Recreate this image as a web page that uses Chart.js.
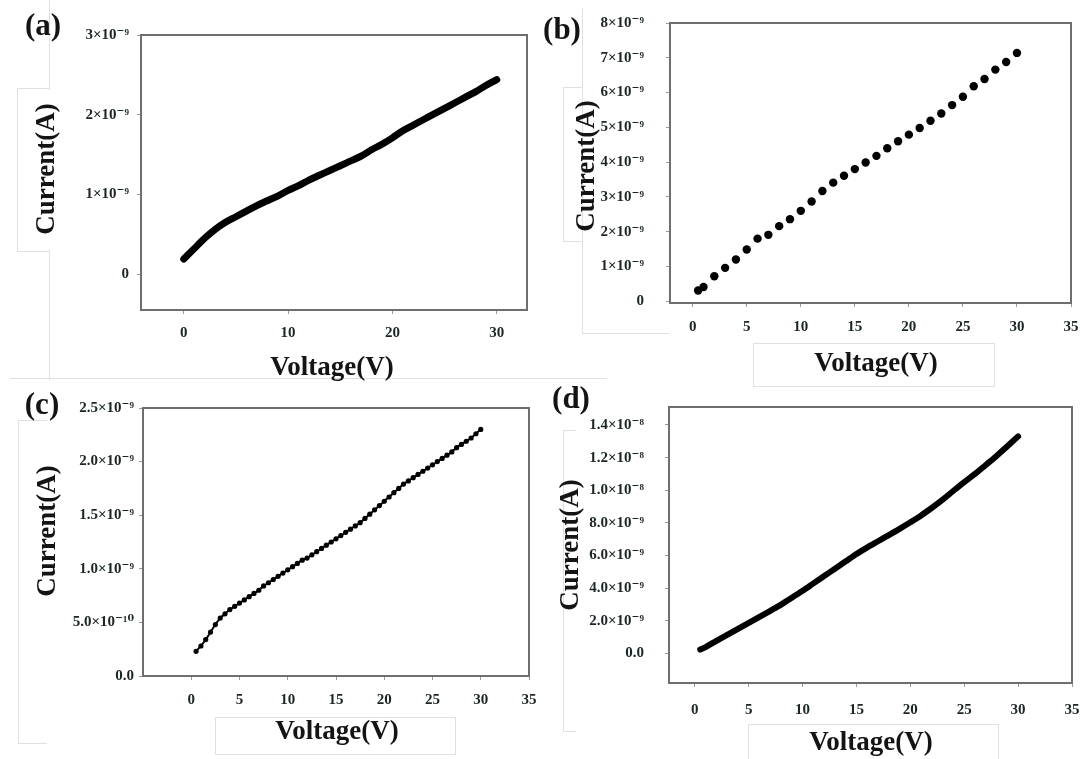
<!DOCTYPE html>
<html>
<head>
<meta charset="utf-8">
<script src="https://cdn.jsdelivr.net/npm/chart.js@4/dist/chart.umd.min.js"></script>
<style>
	body { margin: 0; background: #fff; }
	#wrap { position: relative; width: 1086px; height: 759px; overflow: hidden; background: #fff; }
	canvas { position: absolute; left: 0; top: 0; }
	.lbl { position: absolute; font-family: 'Liberation Serif', 'Times New Roman', serif; font-weight: bold; color: #141414; white-space: nowrap; transform: translate(-50%, -50%); }
	.rot { transform: translate(-50%, -50%) rotate(-90deg); }
	.box { position: absolute; border: 1px solid #e0e0e0; }
</style>
</head>
<body>
<div id="wrap">
	<!-- faint frames left over from the pasted source figures -->
	<div class="box" style="left:17px; top:88px; width:32px; height:162px; border-right:none;"></div>
	<div class="box" style="left:49px; top:0px; width:0; height:88px; border-left:none;"></div>
	<div class="box" style="left:49px; top:250px; width:0; height:128px; border-left:none;"></div>
	<div class="box" style="left:10px; top:378px; width:595px; height:0; border-bottom:none;"></div>
	<div class="box" style="left:563px; top:87px; width:19px; height:153px; border-right:none;"></div>
	<div class="box" style="left:582px; top:8px; width:86px; height:325px; border-right:none; border-top:none;"></div>
	<div class="box" style="left:753px; top:343px; width:240px; height:42px;"></div>
	<div class="box" style="left:18px; top:420px; width:28px; height:322px; border-right:none;"></div>
	<div class="box" style="left:215px; top:717px; width:239px; height:36px;"></div>
	<div class="box" style="left:563px; top:430px; width:12px; height:300px; border-right:none;"></div>
	<div class="box" style="left:748px; top:724px; width:249px; height:40px;"></div>

	<canvas id="chartA" width="1086" height="759"></canvas>
	<canvas id="chartB" width="1086" height="759"></canvas>
	<canvas id="chartC" width="1086" height="759"></canvas>
	<canvas id="chartD" width="1086" height="759"></canvas>

	<div class="lbl" style="left:43px; top:25px; font-size:31px;">(a)</div>
	<div class="lbl rot" style="left:45px; top:169px; font-size:27px;">Current(A)</div>
	<div class="lbl" style="left:332px; top:366px; font-size:27px;">Voltage(V)</div>

	<div class="lbl" style="left:562px; top:29px; font-size:31px;">(b)</div>
	<div class="lbl rot" style="left:585px; top:166px; font-size:27px;">Current(A)</div>
	<div class="lbl" style="left:876px; top:362px; font-size:27px;">Voltage(V)</div>

	<div class="lbl" style="left:42px; top:404px; font-size:31px;">(c)</div>
	<div class="lbl rot" style="left:46px; top:531px; font-size:27px;">Current(A)</div>
	<div class="lbl" style="left:337px; top:730px; font-size:27px;">Voltage(V)</div>

	<div class="lbl" style="left:571px; top:398px; font-size:31px;">(d)</div>
	<div class="lbl rot" style="left:569px; top:545px; font-size:27px;">Current(A)</div>
	<div class="lbl" style="left:871px; top:741px; font-size:27px;">Voltage(V)</div>
</div>
<script>
	// currents are in units of 1e-9 A (nA)
	var voltageA = [0,1,2,3,4,5,6,7,8,9,10,11,12,13,14,15,16,17,18,19,20,21,22,23,24,25,26,27,28,29,30];
	var currentA = [0.19,0.32,0.45,0.56,0.65,0.72,0.79,0.86,0.92,0.98,1.05,1.11,1.18,1.24,1.30,1.36,1.42,1.48,1.56,1.63,1.71,1.80,1.87,1.94,2.01,2.08,2.15,2.22,2.29,2.37,2.44];

	var voltageB = [0.5,1,2,3,4,5,6,7,8,9,10,11,12,13,14,15,16,17,18,19,20,21,22,23,24,25,26,27,28,29,30];
	var currentB = [0.31,0.41,0.72,0.96,1.20,1.49,1.80,1.91,2.16,2.36,2.60,2.87,3.17,3.41,3.61,3.80,3.99,4.18,4.40,4.60,4.79,4.98,5.19,5.40,5.64,5.88,6.18,6.39,6.66,6.88,7.14];

	var voltageC = [0.5,1,1.5,2,2.5,3,3.5,4,4.5,5,5.5,6,6.5,7,7.5,8,8.5,9,9.5,10,10.5,11,11.5,12,12.5,13,13.5,14,14.5,15,
		15.5,16,16.5,17,17.5,18,18.5,19,19.5,20,20.5,21,21.5,22,22.5,23,23.5,24,24.5,25,25.5,26,26.5,27,27.5,28,28.5,29,29.5,30];
	var currentC = [0.23,0.28,0.34,0.41,0.48,0.54,0.58,0.62,0.65,0.68,0.71,0.74,0.77,0.80,0.84,0.87,0.90,0.93,0.96,0.99,1.02,1.05,1.08,1.10,1.13,1.16,1.19,1.22,1.25,1.28,
		1.31,1.34,1.37,1.40,1.43,1.47,1.51,1.55,1.59,1.63,1.67,1.71,1.75,1.79,1.82,1.85,1.88,1.91,1.94,1.97,2.00,2.03,2.06,2.09,2.13,2.16,2.19,2.22,2.26,2.30];

	var voltageD = [0.5,1,2,3,4,5,6,7,8,9,10,11,12,13,14,15,16,17,18,19,20,21,22,23,24,25,26,27,28,29,30];
	var currentD = [0.25,0.40,0.78,1.15,1.52,1.88,2.25,2.62,3.00,3.42,3.85,4.30,4.75,5.20,5.65,6.10,6.50,6.88,7.26,7.64,8.04,8.46,8.93,9.43,9.97,10.50,11.00,11.55,12.10,12.70,13.30];

	var xTicksA = [0,10,20,30];
	var xTicks = [0,5,10,15,20,25,30,35];
	var yTicksA = [0,1,2,3];
	var yLabelsA = ['0','1×10⁻⁹','2×10⁻⁹','3×10⁻⁹'];
	var yTicksB = [0,1,2,3,4,5,6,7,8];
	var yLabelsB = ['0','1×10⁻⁹','2×10⁻⁹','3×10⁻⁹','4×10⁻⁹','5×10⁻⁹','6×10⁻⁹','7×10⁻⁹','8×10⁻⁹'];
	var yTicksC = [0,0.5,1,1.5,2,2.5];
	var yLabelsC = ['0.0','5.0×10⁻¹⁰','1.0×10⁻⁹','1.5×10⁻⁹','2.0×10⁻⁹','2.5×10⁻⁹'];
	var yTicksD = [0,2,4,6,8,10,12,14];
	var yLabelsD = ['0.0','2.0×10⁻⁹','4.0×10⁻⁹','6.0×10⁻⁹','8.0×10⁻⁹','1.0×10⁻⁸','1.2×10⁻⁸','1.4×10⁻⁸'];

	var tickFont = { family: "'Liberation Serif', 'DejaVu Serif', serif", weight: 'bold', size: 15 };

	var frame = {
		id: 'frame',
		afterDraw: function(chart)
		{
			var a = chart.chartArea;
			var ctx = chart.ctx;
			ctx.save();
			ctx.strokeStyle = '#6e6e6e';
			ctx.lineWidth = 2;
			ctx.strokeRect(a.left, a.top, a.right - a.left, a.bottom - a.top);
			ctx.restore();
		}
	};

	function points(xs, ys)
	{
		var out = [];
		for (var i = 0; i < xs.length; i++)
			out.push({ x: xs[i], y: ys[i] });
		return out;
	}

	function makeChart(id, box, xr, xTickVals, yr, yTickVals, yLabels, pads, dataset)
	{
		var ctx = document.getElementById(id).getContext('2d');
		return new Chart(ctx, {
			type: 'scatter',
			data: { datasets: [dataset] },
			options: {
				responsive: false,
				animation: false,
				layout: { padding: { left: 0, top: box.top, right: 1086 - box.right, bottom: 759 - box.bottom - 40 } },
				plugins: { legend: { display: false }, tooltip: { enabled: false } },
				scales: {
					x: {
						type: 'linear', min: xr[0], max: xr[1],
						afterBuildTicks: function(s) { s.ticks = xTickVals.map(function(v) { return { value: v }; }); },
						afterFit: function(s) { s.height = 40; s.paddingLeft = 0; s.paddingRight = 0; },
						grid: { display: true, drawOnChartArea: false, drawTicks: true, tickLength: 4, color: '#9a9a9a' },
						border: { display: true, color: '#6e6e6e', width: 2 },
						ticks: { autoSkip: false, maxRotation: 0, padding: pads.x, color: '#1c2626', font: tickFont,
							callback: function(v) { return String(v); } }
					},
					y: {
						type: 'linear', min: yr[0], max: yr[1],
						afterBuildTicks: function(s) { s.ticks = yTickVals.map(function(v) { return { value: v }; }); },
						afterFit: function(s) { s.width = box.left; s.paddingTop = 0; s.paddingBottom = 0; },
						grid: { display: true, drawOnChartArea: false, drawTicks: true, tickLength: 4, color: '#9a9a9a' },
						border: { display: true, color: '#6e6e6e', width: 2 },
						ticks: { autoSkip: false, padding: pads.y, color: '#1c2626', font: tickFont,
							callback: function(v, i) { return yLabels[i]; } }
					}
				}
			},
			plugins: [frame]
		});
	}

	window.onload = () =>
	{
		makeChart('chartA', { left: 141, top: 35, right: 527, bottom: 310 }, [-4.1, 32.9], xTicksA,
			[-0.45, 3], yTicksA, yLabelsA, { x: 10, y: 8 },
			{ data: points(voltageA, currentA), showLine: true, borderColor: '#000', borderWidth: 7,
				borderCapStyle: 'round', tension: 0.3, pointRadius: 0 });

		makeChart('chartB', { left: 670, top: 23, right: 1071, bottom: 303 }, [-2.1, 35], xTicks,
			[-0.05, 8], yTicksB, yLabelsB, { x: 11, y: 22 },
			{ data: points(voltageB, currentB), showLine: false, pointRadius: 4.2,
				pointBackgroundColor: '#000', pointBorderColor: '#000', pointBorderWidth: 0 });

		makeChart('chartC', { left: 143, top: 408, right: 529, bottom: 676 }, [-5, 35], xTicks,
			[0, 2.5], yTicksC, yLabelsC, { x: 11, y: 5 },
			{ data: points(voltageC, currentC), showLine: true, borderColor: '#000', borderWidth: 2,
				tension: 0.3, pointRadius: 2.6, pointBackgroundColor: '#000', pointBorderWidth: 0 });

		makeChart('chartD', { left: 669, top: 407, right: 1072, bottom: 683 }, [-2.4, 35], xTicks,
			[-1.8, 15.1], yTicksD, yLabelsD, { x: 14, y: 21 },
			{ data: points(voltageD, currentD), showLine: true, borderColor: '#000', borderWidth: 6,
				borderCapStyle: 'round', tension: 0.3, pointRadius: 0 });
	}
</script>
</body>
</html>
